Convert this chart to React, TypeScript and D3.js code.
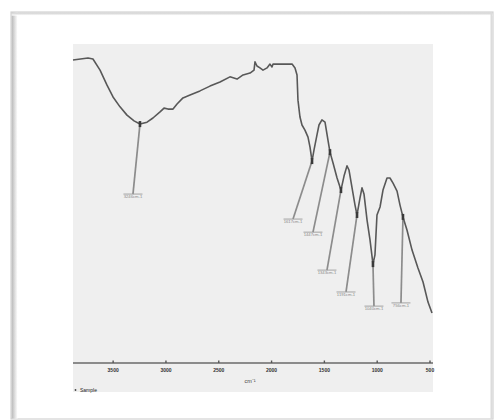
import React from "react";
import * as d3 from "d3";

// FTIR spectrum: wavenumber (cm-1) vs transmittance (%)
const wavenumber = [
  3880, 3738, 3691, 3624, 3558, 3501, 3435, 3369, 3302, 3246, 3179, 3123, 3056, 3018,
  2981, 2933, 2895, 2839, 2772, 2678, 2583, 2488, 2394, 2327, 2270, 2204, 2166, 2157,
  2138, 2110, 2081, 2043, 2015, 1996, 1986, 1948, 1873, 1806, 1778, 1759, 1750, 1731,
  1712, 1684, 1655, 1636, 1617, 1598, 1570, 1551, 1523, 1494, 1466, 1447, 1418, 1380,
  1343, 1314, 1286, 1267, 1238, 1210, 1191, 1163, 1144, 1125, 1096, 1068, 1040, 1021,
  1002, 973, 945, 907, 879, 850, 812, 784, 756, 718, 670, 614, 566, 519, 481,
];
const transmittance = [
  95.0, 95.6, 95.3, 91.8, 87.1, 83.4, 80.3, 77.7, 75.9, 74.9, 75.5, 76.8, 78.7, 79.9,
  79.6, 79.6, 81.2, 83.1, 84.0, 85.3, 86.8, 88.1, 89.7, 89.0, 90.3, 90.9, 91.8, 94.4,
  93.1, 92.5, 91.8, 92.5, 93.7, 92.8, 93.7, 93.7, 93.7, 93.7, 92.5, 90.3, 82.4, 77.1,
  74.6, 73.0, 70.8, 67.7, 63.3, 66.8, 71.5, 74.6, 76.2, 75.5, 69.9, 66.1, 62.7, 58.0,
  54.2, 58.6, 61.8, 60.5, 54.9, 49.5, 46.4, 51.7, 54.9, 53.0, 44.8, 38.6, 31.0, 33.9,
  46.4, 48.9, 54.2, 58.0, 58.0, 56.4, 53.9, 49.5, 45.8, 41.7, 35.4, 29.8, 25.4, 19.1, 15.7,
];

// Picked peaks (cm-1)
const peakWavenumbers = [3246, 1617, 1447, 1343, 1191, 1040, 756];

// Axis ticks
const xTicks = [3500, 3000, 2500, 2000, 1500, 1000, 500];
const xTitle = "cm⁻¹";
const legendLabel = "Sample";

// Callout placement relative to each peak point (px)
const calloutOffsets: [number, number][] = [
  [-7, 70],
  [-19, 58],
  [-17, 80],
  [-14, 80],
  [-11, 77],
  [1, 42],
  [-2, 86],
];

const W = 495;
const H = 420;
const panel = { x0: 73, x1: 433, y0: 44, y1: 392 };
const axisY = 363;

export default function App() {
  const x = d3.scaleLinear().domain([3880, 500]).range([73, 430]);
  const y = d3.scaleLinear().domain([0, 100]).range([axisY, 44]);

  const pts = wavenumber.map((w, i) => [w, transmittance[i]] as [number, number]);
  const line = d3
    .line<[number, number]>()
    .x((d) => x(d[0]))
    .y((d) => y(d[1]))
    .curve(d3.curveLinear);

  const peaks = peakWavenumbers.map((pw, i) => {
    const idx = wavenumber.indexOf(pw);
    const t = transmittance[idx];
    const px = x(pw);
    const py = y(t);
    const [dx, dy] = calloutOffsets[i];
    return { pw, px, py, lx: px + dx, ly: py + dy };
  });

  return (
    <svg
      width={W}
      height={H}
      style={{ position: "absolute", left: 0, top: 0, background: "#ffffff" }}
      fontFamily="Arial, 'Liberation Sans', sans-serif"
    >
      <defs>
        <linearGradient id="shadeL" x1="0" x2="1" y1="0" y2="0">
          <stop offset="0" stopColor="#b8b8b8" />
          <stop offset="1" stopColor="#ffffff" />
        </linearGradient>
        <linearGradient id="shadeT" x1="0" x2="0" y1="0" y2="1">
          <stop offset="0" stopColor="#cccccc" />
          <stop offset="1" stopColor="#ffffff" />
        </linearGradient>
      </defs>

      {/* card frame */}
      <rect x={11} y={12} width={482} height={407} fill="#ffffff" stroke="#d2d2d2" strokeWidth={1.2} />
      <rect x={11.6} y={12.6} width={6} height={406} fill="url(#shadeL)" />
      <rect x={11.6} y={12.6} width={481} height={3} fill="url(#shadeT)" />
      <line x1={491.5} x2={491.5} y1={13} y2={419} stroke="#dcdcdc" strokeWidth={2} />

      {/* plot panel */}
      <rect
        x={panel.x0}
        y={panel.y0}
        width={panel.x1 - panel.x0}
        height={panel.y1 - panel.y0}
        fill="#efefef"
      />

      {/* x axis */}
      <line x1={panel.x0} x2={panel.x1} y1={axisY} y2={axisY} stroke="#6a6a6a" strokeWidth={1.4} />
      {xTicks.map((t) => (
        <g key={t} transform={`translate(${x(t)},0)`}>
          <line y1={axisY - 2.5} y2={axisY} stroke="#555" strokeWidth={1.4} />
          <text y={axisY + 9} textAnchor="middle" fontSize={5} fontWeight="bold" fill="#333">
            {t}
          </text>
        </g>
      ))}
      <text x={250} y={383} textAnchor="middle" fontSize={5.5} fill="#444">
        {xTitle}
      </text>

      {/* legend */}
      <circle cx={75.5} cy={390} r={0.9} fill="#444" />
      <text x={80} y={391.8} fontSize={5} fill="#222">
        {legendLabel}
      </text>

      {/* peak callouts */}
      {peaks.map((p) => (
        <g key={p.pw}>
          <line x1={p.px} y1={p.py} x2={p.lx} y2={p.ly} stroke="#8c8c8c" strokeWidth={1.7} />
          <line x1={p.lx - 9.5} x2={p.lx + 9.5} y1={p.ly} y2={p.ly} stroke="#9a9a9a" strokeWidth={0.9} />
          <text x={p.lx} y={p.ly + 4} textAnchor="middle" fontSize={4.2} fill="#8a8a8a">
            {`${p.pw}cm-1`}
          </text>
        </g>
      ))}

      {/* spectrum */}
      <path d={line(pts) ?? ""} fill="none" stroke="#585858" strokeWidth={1.6} strokeLinejoin="round" />
      {peaks.map((p) => (
        <rect key={`m${p.pw}`} x={p.px - 1.3} y={p.py - 3} width={2.6} height={6} fill="#3a3a3a" />
      ))}
    </svg>
  );
}
